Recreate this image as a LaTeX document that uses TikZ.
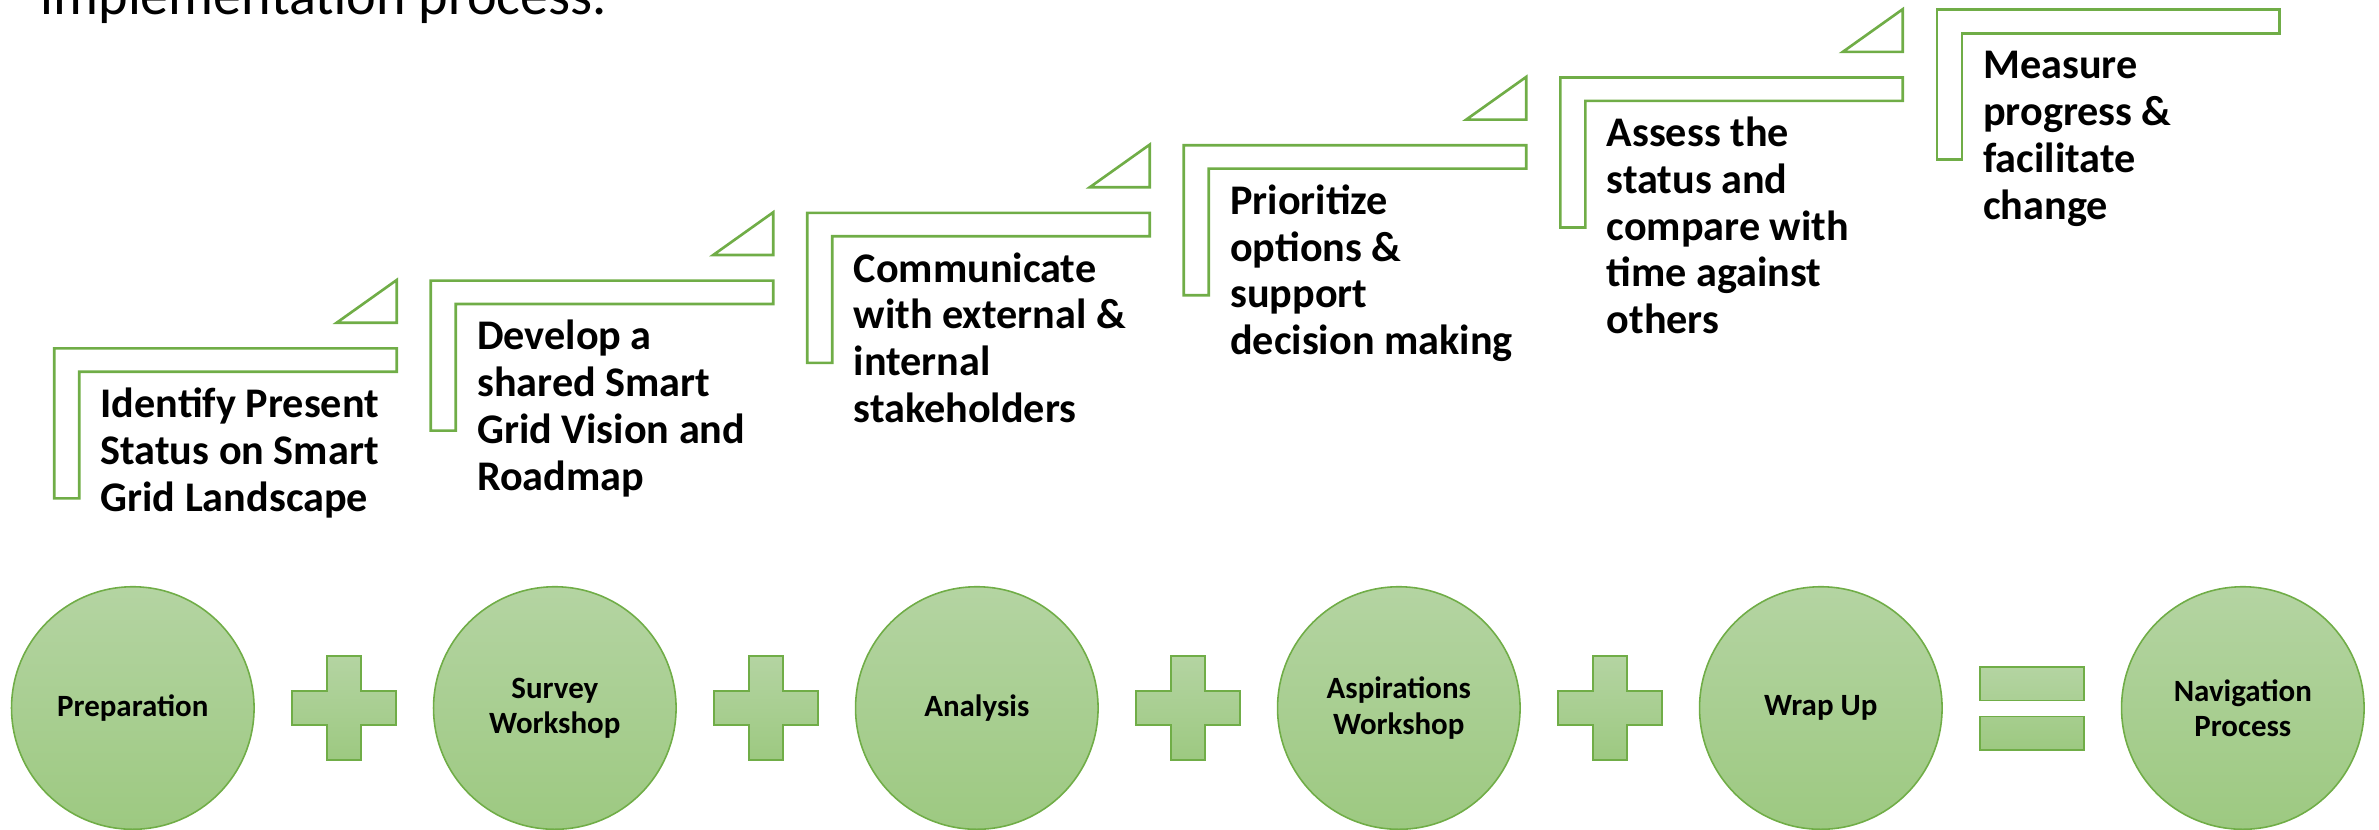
\documentclass[tikz,border=0pt]{standalone}
\usepackage{fontspec}
\setmainfont{Carlito}
\usetikzlibrary{positioning}
\definecolor{stepgreen}{HTML}{70AD47}
\definecolor{lightfill}{HTML}{B4D4A2}
\definecolor{darkfill}{HTML}{9DC981}

\begin{document}
\begin{tikzpicture}[x=0.01cm, y=-0.01cm,
	steplook/.style={draw=stepgreen, line width=0.75pt},
	steptext/.style={anchor=north west, inner sep=0pt, align=left, font=\fontsize{12}{13.3}\selectfont\bfseries},
	phase/.style={circle, minimum size=2.424cm, inner sep=0pt, draw=stepgreen, line width=0.45pt, top color=lightfill, bottom color=darkfill, align=center, font=\fontsize{8.8}{10}\selectfont\bfseries},
	sign/.style={draw=stepgreen, line width=0.45pt, top color=lightfill, bottom color=darkfill}]
		\useasboundingbox (0,0) rectangle (2379,829);
		\node[anchor=base west, inner sep=0pt, font=\fontsize{16}{19}\selectfont] (intro) at (40,14) {implementation process.};
% steps: half frame + small triangle
\draw[steplook] (54.3,348.3) -- ++(342.4,0) -- ++(0,23.4) -- ++(-317.4,0) -- ++(0,126.6) -- ++(-25,0) -- cycle (336.7,322.7) -- ++(60,-42.7) -- ++(0,42.7) -- cycle;
\draw[steplook] (430.8,280.6) -- ++(342.4,0) -- ++(0,23.4) -- ++(-317.4,0) -- ++(0,126.6) -- ++(-25,0) -- cycle (713.2,255.0) -- ++(60,-42.7) -- ++(0,42.7) -- cycle;
\draw[steplook] (807.3,212.9) -- ++(342.4,0) -- ++(0,23.4) -- ++(-317.4,0) -- ++(0,126.6) -- ++(-25,0) -- cycle (1089.7,187.3) -- ++(60,-42.7) -- ++(0,42.7) -- cycle;
\draw[steplook] (1183.8,145.2) -- ++(342.4,0) -- ++(0,23.4) -- ++(-317.4,0) -- ++(0,126.6) -- ++(-25,0) -- cycle (1466.2,119.6) -- ++(60,-42.7) -- ++(0,42.7) -- cycle;
\draw[steplook] (1560.3,77.5) -- ++(342.4,0) -- ++(0,23.4) -- ++(-317.4,0) -- ++(0,126.6) -- ++(-25,0) -- cycle (1842.7,51.9) -- ++(60,-42.7) -- ++(0,42.7) -- cycle;
\draw[steplook] (1936.8,9.8) -- ++(342.4,0) -- ++(0,23.4) -- ++(-317.4,0) -- ++(0,126.6) -- ++(-25,0) -- cycle;
\node[steptext] (s1) at (100,384) {\strut Identify Present\\Status on Smart\\Grid Landscape};
\node[steptext] (s2) at (476.5,316.3) {\strut Develop a\\shared Smart\\Grid Vision and\\Roadmap};
\node[steptext] (s3) at (853,248.6) {\strut Communicate\\with external \&\\internal\\stakeholders};
\node[steptext] (s4) at (1229.5,180.9) {\strut Prioritize\\options \&\\support\\decision making};
\node[steptext] (s5) at (1606,113.2) {\strut Assess the\\status and\\compare with\\time against\\others};
\node[steptext] (s6) at (1982.5,45.5) {\strut Measure\\progress \&\\facilitate\\change};
% phases
\node[phase] (prep) at (132.8,708) {Preparation};
\node[phase] (survey) at (554.8,708) {Survey\\Workshop};
\node[phase] (analysis) at (976.8,708) {Analysis};
\node[phase] (aspire) at (1398.8,708) {Aspirations\\Workshop};
\node[phase] (wrapup) at (1820.8,708) {Wrap Up};
\node[phase] (navig) at (2242.8,708) {Navigation\\Process};
\path[sign] (327,656) -- ++(34,0) -- ++(0,35) -- ++(35,0) -- ++(0,34) -- ++(-35,0) -- ++(0,35) -- ++(-34,0) -- ++(0,-35) -- ++(-35,0) -- ++(0,-34) -- ++(35,0) -- cycle;
\path[sign] (749,656) -- ++(34,0) -- ++(0,35) -- ++(35,0) -- ++(0,34) -- ++(-35,0) -- ++(0,35) -- ++(-34,0) -- ++(0,-35) -- ++(-35,0) -- ++(0,-34) -- ++(35,0) -- cycle;
\path[sign] (1171,656) -- ++(34,0) -- ++(0,35) -- ++(35,0) -- ++(0,34) -- ++(-35,0) -- ++(0,35) -- ++(-34,0) -- ++(0,-35) -- ++(-35,0) -- ++(0,-34) -- ++(35,0) -- cycle;
\path[sign] (1593,656) -- ++(34,0) -- ++(0,35) -- ++(35,0) -- ++(0,34) -- ++(-35,0) -- ++(0,35) -- ++(-34,0) -- ++(0,-35) -- ++(-35,0) -- ++(0,-34) -- ++(35,0) -- cycle;
\path[sign] (1980,666.7) rectangle (2084,700.3) (1980,716.3) rectangle (2084,749.7);
\end{tikzpicture}
\end{document}
